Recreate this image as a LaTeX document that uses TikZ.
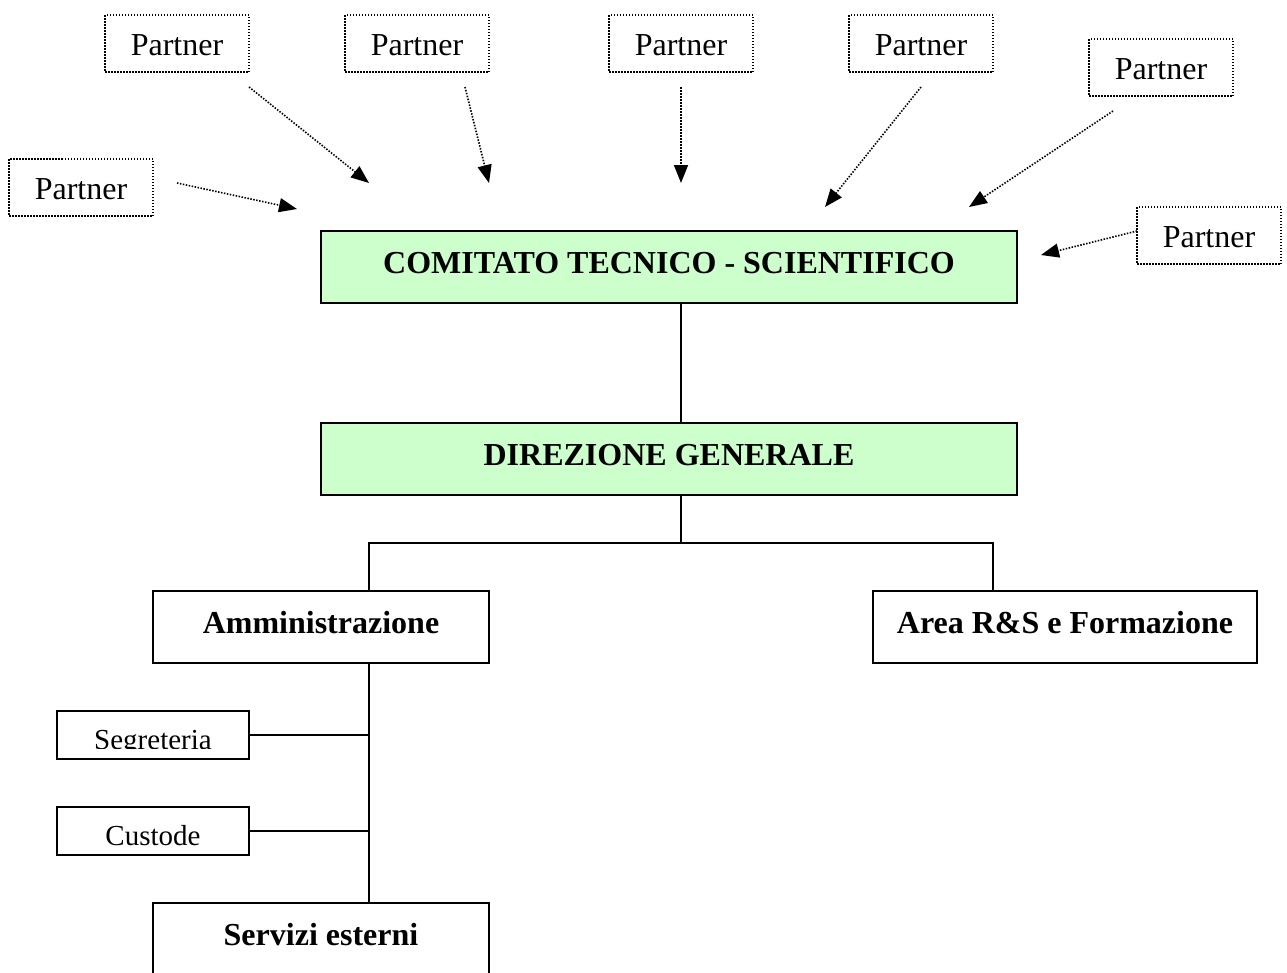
\documentclass[tikz,border=0pt]{standalone}
\usepackage{fontspec}
\setmainfont{Liberation Serif}
\usetikzlibrary{arrows.meta,calc}
\definecolor{boxgreen}{HTML}{CCFFCC}
\tikzset{
  partnerbox/.style={draw, line width=1.5pt, dash pattern=on 1.5pt off 1.5pt,
    minimum width=144pt, minimum height=57pt, inner sep=0pt, outer sep=0pt,
    font=\fontsize{32}{38}\selectfont, text height=23pt, text depth=0pt},
  dotarrow/.style={line width=1.6pt, dash pattern=on 1.5pt off 1.5pt,
    -{Triangle[length=18pt,width=14pt]}},
  bigbox/.style={draw, line width=2pt, minimum width=696pt, minimum height=72pt,
    fill=boxgreen, inner sep=0pt, outer sep=0pt,
    font=\fontsize{32}{38}\selectfont\bfseries, text height=22pt, text depth=10pt},
  unitbox/.style={draw, line width=2pt, minimum height=72pt, inner sep=0pt, outer sep=0pt,
    font=\fontsize{32}{38}\selectfont\bfseries, text height=22pt, text depth=10pt},
  smallbox/.style={draw, line width=2pt, minimum width=192pt, minimum height=48pt,
    inner sep=0pt, outer sep=0pt,
    font=\fontsize{29}{34}\selectfont, text height=28pt, text depth=0pt},
  smalltext/.style={inner sep=0pt, outer sep=0pt, minimum height=48pt,
    font=\fontsize{29}{34}\selectfont, text height=28pt, text depth=0pt},
  conn/.style={line width=2pt}
}
\begin{document}
\begin{tikzpicture}[x=1pt,y=-1pt]
\clip (0,0) rectangle (1287,972);
\fill[white] (0,0) rectangle (1287,972);

% Partner boxes
\node[partnerbox] (p1) at (177,43.5) {Partner};
\node[partnerbox] (p2) at (417,43.5) {Partner};
\node[partnerbox] (p3) at (681,43.5) {Partner};
\node[partnerbox] (p4) at (921,43.5) {Partner};
\node[partnerbox] (p5) at (1161,67.5) {Partner};
\node[partnerbox] (p6) at (81,187.5) {Partner};
\node[partnerbox] (p7) at (1209,235.5) {Partner};

% arrow ends
\coordinate (s1) at (249,87);   \coordinate (t1) at (369,183);
\coordinate (s2) at (465,87);   \coordinate (t2) at (489,183);
\coordinate (s3) at (681,87);   \coordinate (t3) at (681,183);
\coordinate (s4) at (921,87);   \coordinate (t4) at (825,207);
\coordinate (s5) at (1113,111); \coordinate (t5) at (969,207);
\coordinate (s6) at (177,183);  \coordinate (t6) at (297,209);
\coordinate (s7) at (1137,231); \coordinate (t7) at (1041,255);
\foreach \i in {1,...,7} {\draw[dotarrow] (s\i) -- (t\i);}

% main boxes
\node[bigbox] (cts) at (669,267) {COMITATO TECNICO - SCIENTIFICO};
\node[bigbox] (dg) at (669,459) {DIREZIONE GENERALE};
\node[unitbox, minimum width=336pt] (amm) at (321,627) {Amministrazione};
\node[unitbox, minimum width=384pt] (area) at (1065,627) {Area R\&S e Formazione};
\node[unitbox, minimum width=336pt] (serv) at (321,939) {Servizi esterni};
\node[smallbox] (seg) at (153,735) {};
\begin{scope}
  \clip (57,711) rectangle (249,748);
  \node[smalltext] (segtext) at (153,735) {Segreteria};
\end{scope}
\node[smallbox] (cust) at (153,831) {Custode};

% connectors
\draw[conn] ([xshift=12pt]cts.south) -- ([xshift=12pt]dg.north);
\coordinate (dgout) at ([xshift=12pt]dg.south);
\coordinate (bus) at ($(dgout)+(0,48)$);
\coordinate (ammtop) at ([xshift=48pt]amm.north);
\coordinate (areatop) at ([xshift=-72pt]area.north);
\draw[conn] (dgout) -- (bus);
\draw[conn] (ammtop) |- (bus) -| (areatop);
\coordinate (ammout) at ([xshift=48pt]amm.south);
\coordinate (servtop) at ([xshift=48pt]serv.north);
\draw[conn] (ammout) -- (servtop);
\draw[conn] (seg.east) -- (seg.east -| ammout);
\draw[conn] (cust.east) -- (cust.east -| ammout);
\end{tikzpicture}
\end{document}
